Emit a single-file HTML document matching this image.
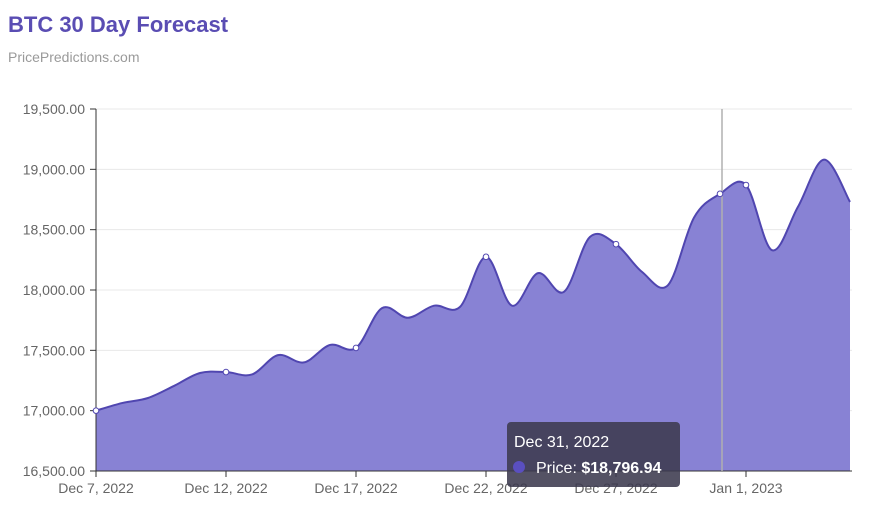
<!DOCTYPE html>
<html><head><meta charset="utf-8">
<style>
body{margin:0;background:#fff;width:873px;height:515px;overflow:hidden;font-family:"Liberation Sans",sans-serif;}
#title{position:absolute;left:8px;top:12px;font-size:22px;font-weight:bold;color:#5a4db3;}
#sub{position:absolute;left:8px;top:49px;font-size:14px;color:#9a9a9a;}
svg{position:absolute;left:0;top:0;}
</style></head><body>
<div id="title">BTC 30 Day Forecast</div>
<div id="sub">PricePredictions.com</div>
<svg id="chart" width="873" height="515"></svg>
<script>
const dates=["Dec 7, 2022","Dec 12, 2022","Dec 17, 2022","Dec 22, 2022","Dec 27, 2022","Jan 1, 2023"];
const prices=[17000,17063,17105,17205,17312,17320,17300,17460,17400,17545,17520,17850,17770,17870,17860,18275,17870,18140,17985,18440,18380,18150,18040,18600,18796.94,18870,18330,18690,19080,18730];
const yTicks=[16500,17000,17500,18000,18500,19000,19500];
const markerIdx=[0,5,10,15,20,24,25];
const hoverIdx=24;

const NS="http://www.w3.org/2000/svg";
const svg=document.getElementById('chart');
const x0=96,x1=850,yTop=109,yBot=471,vMin=16500,vMax=19500;
const xs=i=>x0+(x1-x0)*i/(prices.length-1);
const ys=v=>yBot-(v-vMin)/(vMax-vMin)*(yBot-yTop);
function mk(t,a,p){const e=document.createElementNS(NS,t);for(const k in a)e.setAttribute(k,a[k]);(p||svg).appendChild(e);return e;}
const fmt=v=>v.toLocaleString('en-US',{minimumFractionDigits:2,maximumFractionDigits:2});
yTicks.forEach(v=>{
  const g=mk('line',{x1:x0,x2:852,y1:ys(v),y2:ys(v),stroke:'#e8e8e8'});
  
  
  mk('line',{x1:x0-6,x2:x0,y1:ys(v),y2:ys(v),stroke:'#333'});
  const t=mk('text',{x:85,y:ys(v)+5,'text-anchor':'end','font-size':14,fill:'#666'});
  t.textContent=fmt(v);
  
  
});
const P=prices.map((v,i)=>[xs(i),ys(v)]);
let d='M'+P[0][0]+','+P[0][1];
for(let i=0;i<P.length-1;i++){
  const p0=P[i-1]||P[i],p1=P[i],p2=P[i+1],p3=P[i+2]||P[i+1];
  const c1=[p1[0]+(p2[0]-p0[0])/6,p1[1]+(p2[1]-p0[1])/6];
  const c2=[p2[0]-(p3[0]-p1[0])/6,p2[1]-(p3[1]-p1[1])/6];
  d+=' C'+c1+' '+c2+' '+p2;
}
const area=mk('path',{d:d+' L'+x1+','+yBot+' L'+x0+','+yBot+' Z',fill:'#8882d4'});


const line=mk('path',{d:d,fill:'none',stroke:'#5046b0','stroke-width':2});


mk('line',{x1:x0,x2:x0,y1:yTop,y2:yBot,stroke:'#333'});
mk('line',{x1:x0,x2:852,y1:yBot,y2:yBot,stroke:'#333'});
dates.forEach((s,k)=>{
  const i=k*5;
  mk('line',{x1:xs(i),x2:xs(i),y1:yBot,y2:yBot+6,stroke:'#333'});
  const t=mk('text',{x:xs(i),y:yBot+22,'text-anchor':'middle','font-size':14,fill:'#666'});
  t.textContent=s;
  
  
});
const ch=mk('line',{x1:xs(hoverIdx)+2,x2:xs(hoverIdx)+2,y1:yTop,y2:yBot,stroke:'#b0b0b0','stroke-width':1.5});


markerIdx.forEach(i=>{
  const c=mk('circle',{cx:xs(i),cy:ys(prices[i]),r:2.8,fill:'#fff',stroke:'#5046b0','stroke-width':1});
  
  
});
const tg=mk('g',{});


mk('rect',{x:507,y:422,width:173,height:65,rx:4,fill:'#3c3a4e','fill-opacity':0.88},tg);
const t1=mk('text',{x:514,y:447,'font-size':16,fill:'#fff'},tg);t1.textContent="Dec 31, 2022";
mk('circle',{cx:519,cy:467,r:6,fill:'#5a4fc0'},tg);
const t2=mk('text',{x:536,y:473,'font-size':16,fill:'#fff'},tg);
t2.innerHTML='Price: <tspan font-weight="bold">$'+fmt(prices[hoverIdx])+'</tspan>';
</script>
</body></html>
